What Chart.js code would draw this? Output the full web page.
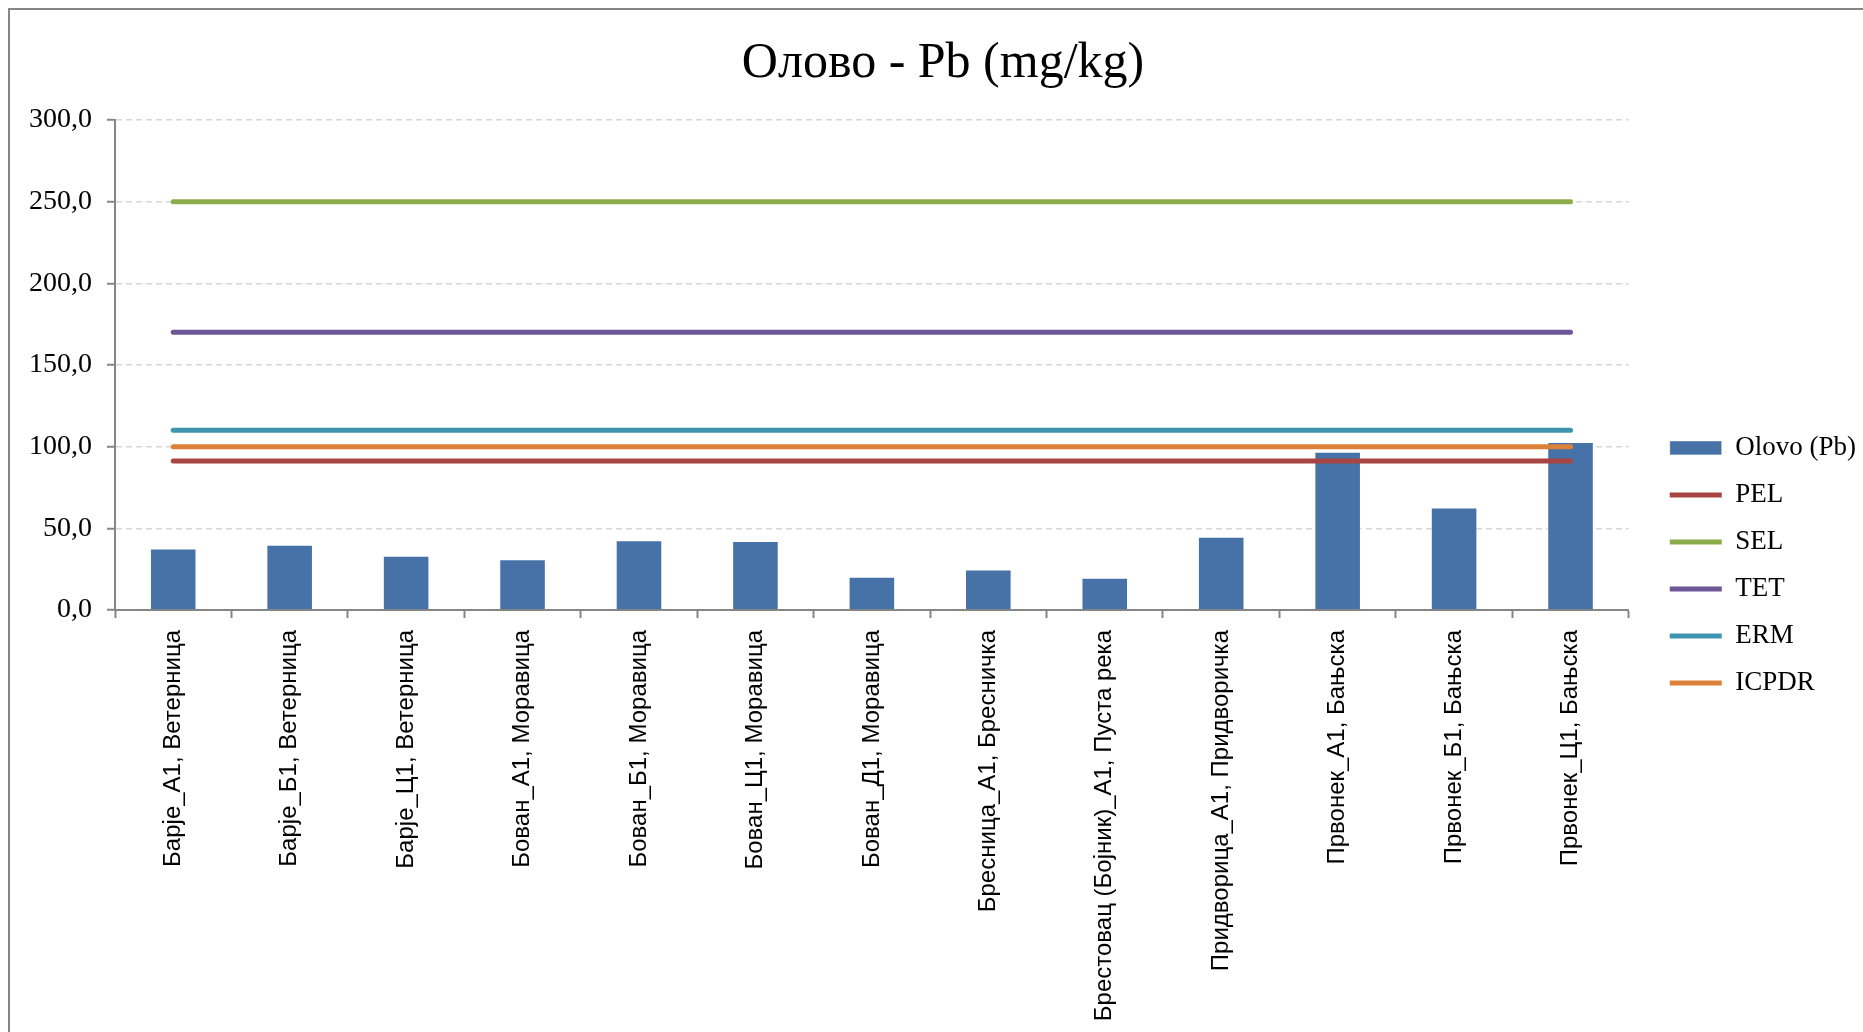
<!DOCTYPE html>
<html>
<head>
<meta charset="utf-8">
<title>Олово - Pb (mg/kg)</title>
<script src="https://cdn.jsdelivr.net/npm/chart.js@4.4.1/dist/chart.umd.min.js"></script>
<style>
    html, body { margin: 0; padding: 0; background: #fff; overflow: hidden; }
</style>
</head>
<body>
<canvas id="leadChart" width="1866" height="1032"></canvas>
<script>
// sampling sites (x axis)
const sites = [
    "Барје_А1, Ветерница",
    "Барје_Б1, Ветерница",
    "Барје_Ц1, Ветерница",
    "Бован_А1, Моравица",
    "Бован_Б1, Моравица",
    "Бован_Ц1, Моравица",
    "Бован_Д1, Моравица",
    "Бресница_А1, Бресничка",
    "Брестовац (Бојник)_А1, Пуста река",
    "Придворица_А1, Придворичка",
    "Првонек_А1, Бањска",
    "Првонек_Б1, Бањска",
    "Првонек_Ц1, Бањска"
];

// measured lead, mg/kg
const leadValues = [37.7, 39.9, 33.2, 31.0, 42.7, 42.3, 20.4, 24.8, 19.7, 44.9, 96.9, 62.7, 102.8];

// guideline limits (one value per site so the lines span the chart)
const pelValues   = [91.3, 91.3, 91.3, 91.3, 91.3, 91.3, 91.3, 91.3, 91.3, 91.3, 91.3, 91.3, 91.3];
const selValues   = [250, 250, 250, 250, 250, 250, 250, 250, 250, 250, 250, 250, 250];
const tetValues   = [170, 170, 170, 170, 170, 170, 170, 170, 170, 170, 170, 170, 170];
const ermValues   = [110, 110, 110, 110, 110, 110, 110, 110, 110, 110, 110, 110, 110];
const icpdrValues = [100, 100, 100, 100, 100, 100, 100, 100, 100, 100, 100, 100, 100];

const yTicks = [0, 50, 100, 150, 200, 250, 300];

const serif = "'Liberation Serif', 'Times New Roman', serif";
const sans = "'Liberation Sans', Arial, sans-serif";
const axisGrey = '#868686';

function limitLine(label, values, color) {
    return {
        type: 'line',
        label: label,
        data: values,
        borderColor: color,
        backgroundColor: color,
        borderWidth: 5,
        borderCapStyle: 'round',
        pointRadius: 0,
        pointStyle: 'line',
        fill: false,
        order: 1
    };
}

// grey frame round the chart (only left and top edges are visible)
const frame = {
    id: 'frame',
    beforeDraw(chart) {
        const ctx = chart.ctx;
        ctx.save();
        ctx.fillStyle = '#fff';
        ctx.fillRect(0, 0, chart.width, chart.height);
        ctx.strokeStyle = axisGrey;
        ctx.lineWidth = 2;
        ctx.strokeRect(9, 9, 3000, 3000);
        ctx.restore();
    }
};

new Chart(document.getElementById('leadChart'), {
    type: 'bar',
    data: {
        labels: sites,
        datasets: [
            {
                label: 'Olovo (Pb)',
                data: leadValues,
                backgroundColor: '#4672A8',
                borderColor: 'rgba(255,255,255,0.55)',
                borderWidth: 1,
                barPercentage: 0.4,
                categoryPercentage: 1.0,
                pointStyle: 'rect',
                order: 2
            },
            limitLine('PEL', pelValues, '#A84442'),
            limitLine('SEL', selValues, '#8CAB4A'),
            limitLine('TET', tetValues, '#6E5796'),
            limitLine('ERM', ermValues, '#3F95AF'),
            limitLine('ICPDR', icpdrValues, '#DD8139')
        ]
    },
    options: {
        responsive: false,
        animation: false,
        layout: { padding: { left: 20, right: 0, top: 0, bottom: 0 } },
        plugins: {
            title: {
                display: true,
                text: 'Олово - Pb (mg/kg)',
                color: '#000',
                font: { family: serif, size: 50, weight: 'normal' },
                padding: { top: 34, bottom: 26 }
            },
            legend: {
                position: 'right',
                align: 'start',
                title: {
                    display: true,
                    text: ' ',
                    font: { size: 12 },
                    padding: { top: 400, bottom: 0 }
                },
                labels: {
                    usePointStyle: true,
                    pointStyleWidth: 52,
                    boxHeight: 14,
                    padding: 20,
                    color: '#000',
                    font: { family: serif, size: 27 },
                    sort: (a, b) => a.datasetIndex - b.datasetIndex
                }
            },
            tooltip: { enabled: false }
        },
        scales: {
            x: {
                offset: true,
                grid: {
                    display: true,
                    offset: true,
                    drawOnChartArea: false,
                    drawTicks: true,
                    tickLength: 8,
                    tickColor: axisGrey,
                    tickWidth: 2
                },
                border: { display: true, color: axisGrey, width: 2 },
                ticks: {
                    minRotation: 90,
                    maxRotation: 90,
                    autoSkip: false,
                    padding: 12,
                    color: '#000',
                    font: { family: sans, size: 24 }
                },
                afterFit(scale) { scale.height = 422; }
            },
            y: {
                min: 0,
                max: 300,
                afterBuildTicks(scale) {
                    scale.ticks = yTicks.map(v => ({ value: v }));
                },
                grid: {
                    color: '#D6D6D6',
                    lineWidth: 1.5,
                    drawTicks: true,
                    tickLength: 8,
                    tickColor: axisGrey,
                    tickWidth: 2,
                    tickBorderDash: []
                },
                border: { display: true, color: axisGrey, width: 2, dash: [6, 4] },
                ticks: {
                    padding: 15,
                    color: '#000',
                    font: { family: serif, size: 28 },
                    callback: value => value.toFixed(1).replace('.', ',')
                },
                afterFit(scale) { scale.width = 95; }
            },
            // empty right-hand axis, only keeps a gap between plot and legend
            gap: {
                type: 'linear',
                position: 'right',
                display: true,
                grid: { display: false, drawTicks: false },
                border: { display: false },
                ticks: { display: false },
                afterFit(scale) { scale.width = 21; }
            }
        }
    },
    plugins: [frame]
});
</script>
</body>
</html>
